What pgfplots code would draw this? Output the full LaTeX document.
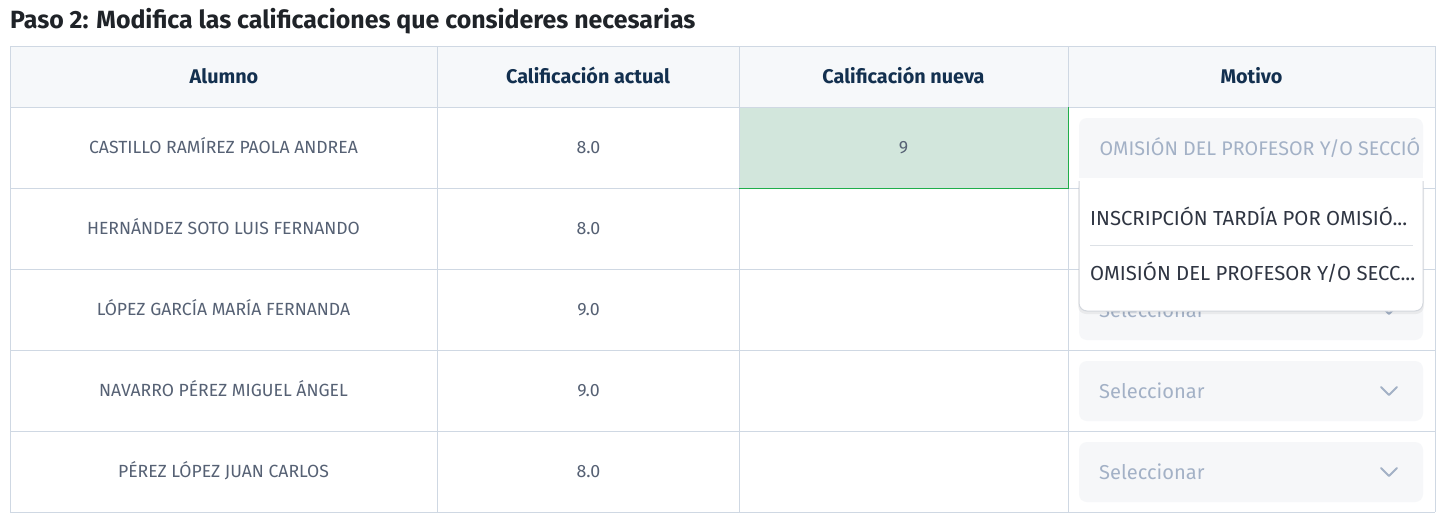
\documentclass[border=0pt]{standalone}
\usepackage{pgfplots}
\pgfplotsset{compat=1.18}
\usepackage{pgfplotstable}
\usepackage{fontspec}
\setmainfont{Fira Sans}
\newcommand\fs[1]{\fontsize{#1}{#1}\selectfont}
\definecolor{gridc}{HTML}{CFD8E3}
\definecolor{headbg}{HTML}{F6F8FA}
\definecolor{headtx}{HTML}{13304F}
\definecolor{bodytx}{HTML}{566174}
\definecolor{titletx}{HTML}{1F2328}
\definecolor{selbg}{HTML}{F6F7F9}
\definecolor{seltx}{HTML}{A3B1C6}
\definecolor{poptx}{HTML}{2F3542}
\definecolor{greenbg}{HTML}{D2E6DC}
\definecolor{greenln}{HTML}{1FAE4B}
\definecolor{popln}{HTML}{D3D7DD}
\definecolor{sepln}{HTML}{DDE1E6}

\pgfplotstableread[col sep=comma]{
y,name,grade
147.5,CASTILLO RAMÍREZ PAOLA ANDREA,8.0
228.5,HERNÁNDEZ SOTO LUIS FERNANDO,8.0
309.5,LÓPEZ GARCÍA MARÍA FERNANDA,9.0
390.5,NAVARRO PÉREZ MIGUEL ÁNGEL,9.0
471.5,PÉREZ LÓPEZ JUAN CARLOS,8.0
}\rows

\pgfplotstableread[col sep=comma]{
x,label
224,Alumno
588,Calificación actual
903.5,Calificación nueva
1251.5,Motivo
}\heads

\begin{document}
\begin{tikzpicture}
\begin{axis}[
  width=1446pt, height=528pt, scale only axis,
  xmin=0, xmax=1446, ymin=0, ymax=528, y dir=reverse,
  hide axis, clip=false,
]
% background
\fill[white] (axis cs:0,0) rectangle (axis cs:1446,528);
% title
\node[anchor=base west, text=titletx, font=\fs{24.9}\bfseries, inner sep=0pt] at (axis cs:10,28.5) {Paso 2: Modifica las calificaciones que consideres necesarias};
% header background
\fill[headbg] (axis cs:10,46) rectangle (axis cs:1435,107);
% green cell
\fill[greenbg] (axis cs:739,107) rectangle (axis cs:1068,188);
% grid
\foreach \yy in {46,107,188,269,350,431,512}{
  \edef\tmp{\noexpand\draw[gridc, line width=1pt] (axis cs:10,\yy) -- (axis cs:1435,\yy);}\tmp
}
\foreach \xx in {10,437,739,1068,1435}{
  \edef\tmp{\noexpand\draw[gridc, line width=1pt] (axis cs:\xx,46) -- (axis cs:\xx,512);}\tmp
}
\draw[greenln, line width=1pt] (axis cs:739,188) -- (axis cs:1068,188) -- (axis cs:1068,107);

% header labels
\addplot[draw=none, mark=none, nodes near coords, point meta=explicit symbolic,
  every node near coord/.append style={anchor=base, text=headtx, font=\fs{19.8}\bfseries, inner sep=0pt, yshift=-6.5pt}]
  table[x=x, y expr=77, meta=label]{\heads};
% names
\addplot[draw=none, mark=none, nodes near coords, point meta=explicit symbolic,
  every node near coord/.append style={anchor=base, text=bodytx, font=\fs{17.6}, inner sep=0pt, yshift=-6pt}]
  table[x expr=223.5, y=y, meta=name]{\rows};
% current grades
\addplot[draw=none, mark=none, nodes near coords, point meta=explicit symbolic,
  every node near coord/.append style={anchor=base, text=bodytx, font=\fs{17.8}, inner sep=0pt, yshift=-6pt}]
  table[x expr=588.5, y=y, meta=grade]{\rows};
% new grade
\addplot[draw=none, mark=none, nodes near coords, point meta=explicit symbolic,
  every node near coord/.append style={anchor=base, text=bodytx, font=\fs{17.8}, inner sep=0pt, yshift=-6pt}]
  coordinates {(903.5,147.5) [9]};

% select boxes rows 3-5
\foreach \tp in {280,361,442}{
  \pgfmathsetmacro\bt{\tp+60}
  \pgfmathsetmacro\bl{\tp+37}
  \pgfmathsetmacro\ca{\tp+26}
  \pgfmathsetmacro\cb{\tp+34}
  \edef\tmp{%
  \noexpand\fill[selbg, rounded corners=8pt] (axis cs:1079,\tp) rectangle (axis cs:1423,\bt);
  \noexpand\node[anchor=base west, text=seltx, font=\noexpand\fs{20.1}, inner sep=0pt] at (axis cs:1099,\bl) {Seleccionar};
  \noexpand\draw[seltx, line width=2pt, line cap=round, line join=round] (axis cs:1381,\ca) -- (axis cs:1389,\cb) -- (axis cs:1397,\ca);
  }\tmp
}

% select box row 1 (open)
\fill[selbg, rounded corners=8pt] (axis cs:1079,118) rectangle (axis cs:1423,170);
\fill[selbg] (axis cs:1079,150) rectangle (axis cs:1423,178);
\begin{scope}
\clip (axis cs:1079,118) rectangle (axis cs:1423.5,178);
\node[anchor=base west, text=seltx, font=\fs{19.7}, inner sep=0pt] at (axis cs:1099.5,155) {OMISIÓN DEL PROFESOR Y/O SECCIÓ};
\end{scope}

% dropdown popup
\fill[black, opacity=0.05, rounded corners=8pt] (axis cs:1078,181) -- (axis cs:1078,314) -- (axis cs:1424,314) -- (axis cs:1424,181) -- cycle;
\fill[white, rounded corners=8pt] (axis cs:1079,179) -- (axis cs:1079,311) -- (axis cs:1423,311) -- (axis cs:1423,179) -- cycle;
\fill[white] (axis cs:1079,179) rectangle (axis cs:1423,195);
\draw[popln, line width=1pt, rounded corners=8pt] (axis cs:1079,181) -- (axis cs:1079,311) -- (axis cs:1423,311) -- (axis cs:1423,181);
\draw[sepln, line width=1pt] (axis cs:1090,245) -- (axis cs:1413,245);
\node[anchor=base west, text=poptx, font=\fs{20.3}, inner sep=0pt] at (axis cs:1090,225) {INSCRIPCIÓN TARDÍA POR OMISIÓ...};
\node[anchor=base west, text=poptx, font=\fs{20.3}, inner sep=0pt] at (axis cs:1090,280) {OMISIÓN DEL PROFESOR Y/O SECC...};
\end{axis}
\end{tikzpicture}
\end{document}
